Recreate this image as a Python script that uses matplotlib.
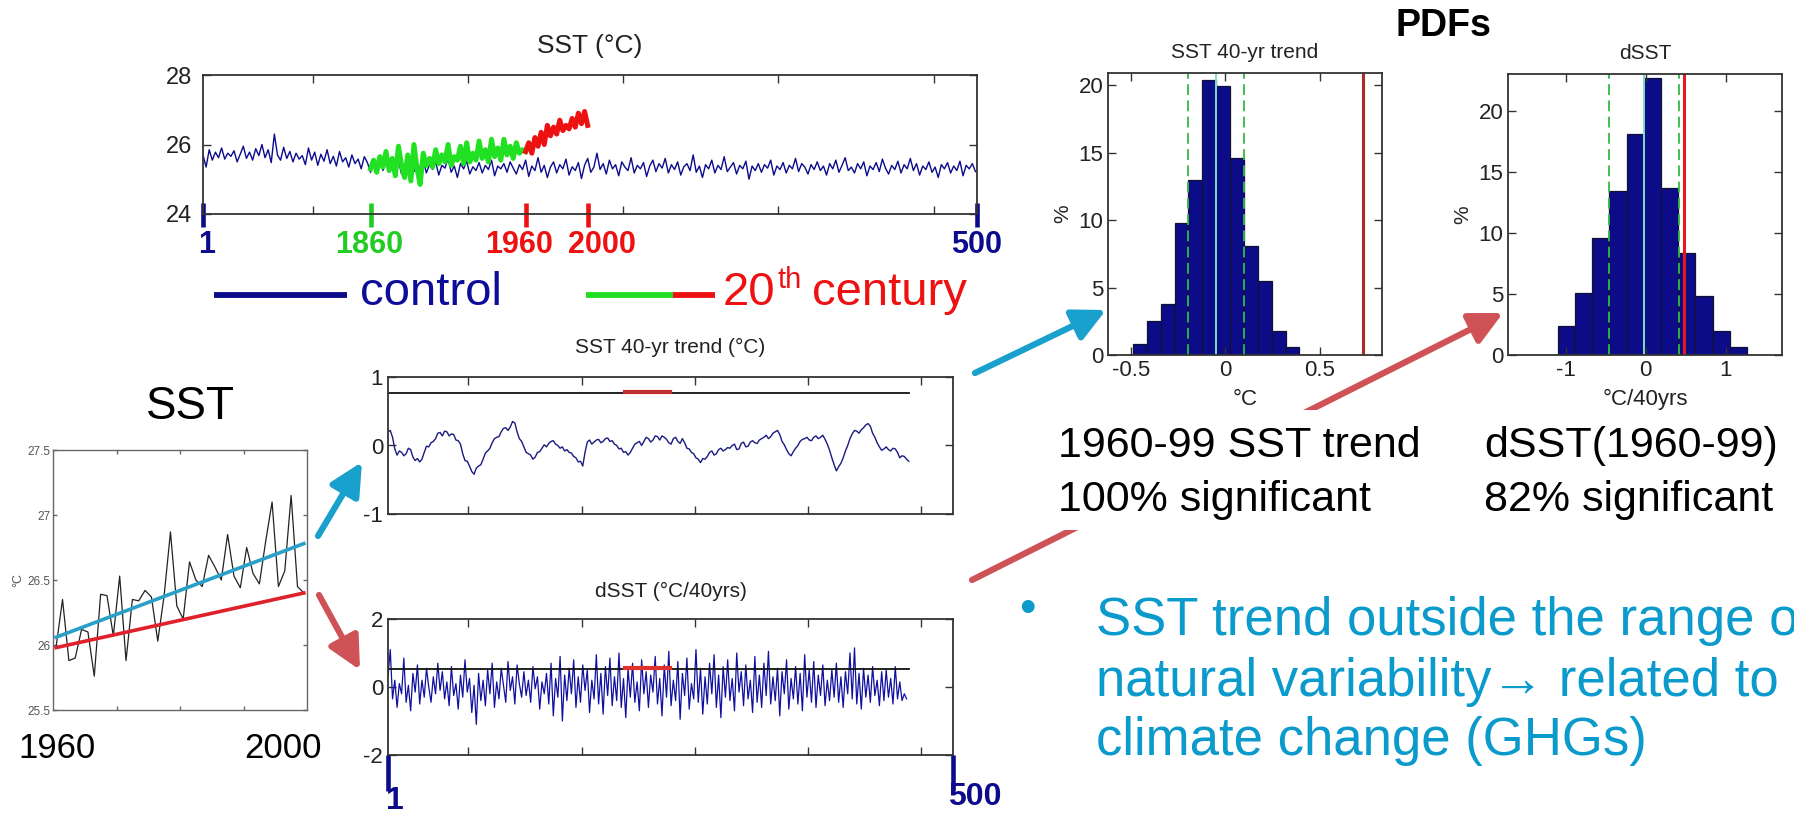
import numpy as np
import matplotlib
matplotlib.use("Agg")
import matplotlib.pyplot as plt
from matplotlib.patches import Rectangle

plt.rcParams['font.family'] = ['Liberation Sans', 'DejaVu Sans']
plt.rcParams['axes.unicode_minus'] = False

# ---------------- data ----------------
# 500-yr control run SST (every 2nd year)
sst_control = [
    25.70, 25.35, 25.85, 25.55, 25.78, 25.62, 25.90, 25.58, 25.75, 25.66,
    25.82, 25.50, 25.72, 25.95, 25.60, 25.78, 25.55, 25.88, 25.68, 26.00,
    25.62, 25.85, 25.48, 26.30, 25.70, 25.55, 25.92, 25.60, 25.80, 25.50,
    25.75, 25.58, 25.68, 25.42, 25.90, 25.55, 25.78, 25.40, 25.72, 25.52,
    25.85, 25.45, 25.66, 25.38, 25.80, 25.50, 25.62, 25.35, 25.70, 25.45,
    25.58, 25.30, 25.65, 25.48, 25.20, 25.55, 25.38, 25.60, 25.25, 25.50,
    25.40, 25.62, 25.28, 25.52, 25.15, 25.45, 25.35, 25.58, 25.22, 25.48,
    25.30, 25.55, 25.18, 25.42, 25.28, 25.50, 25.12, 25.40, 25.32, 25.60,
    25.20, 25.38, 25.05, 25.45, 25.30, 25.52, 25.15, 25.36, 25.25, 25.48,
    25.18, 25.40, 25.28, 25.55, 25.10, 25.38, 25.30, 25.45, 25.20, 25.50,
    25.32, 25.15, 25.42, 25.28, 25.55, 25.08, 25.38, 25.25, 25.62, 25.20,
    25.40, 25.05, 25.35, 25.50, 25.18, 25.42, 25.30, 25.58, 25.12, 25.36,
    25.25, 25.48, 25.02, 25.40, 25.60, 25.20, 25.35, 25.75, 25.28, 25.45,
    25.15, 25.55, 25.30, 25.42, 25.10, 25.50, 25.35, 25.25, 25.62, 25.18,
    25.40, 25.30, 25.48, 25.08, 25.38, 25.55, 25.22, 25.45, 25.32, 25.60,
    25.18, 25.42, 25.28, 25.50, 25.12, 25.36, 25.45, 25.25, 25.70, 25.20,
    25.38, 25.05, 25.42, 25.30, 25.55, 25.18, 25.40, 25.28, 25.65, 25.22,
    25.35, 25.48, 25.15, 25.40, 25.30, 25.52, 25.00, 25.38, 25.25, 25.45,
    25.20, 25.42, 25.32, 25.55, 25.12, 25.38, 25.28, 25.48, 25.18, 25.40,
    25.30, 25.60, 25.22, 25.45, 25.35, 25.15, 25.42, 25.28, 25.50, 25.25,
    25.38, 25.12, 25.45, 25.30, 25.55, 25.20, 25.40, 25.62, 25.25, 25.35,
    25.18, 25.45, 25.30, 25.50, 25.10, 25.38, 25.28, 25.48, 25.22, 25.58,
    25.32, 25.15, 25.40, 25.28, 25.52, 25.18, 25.42, 25.30, 25.60, 25.25,
    25.45, 25.12, 25.38, 25.28, 25.50, 25.20, 25.35, 25.05, 25.42, 25.30,
    25.48, 25.18, 25.38, 25.25, 25.52, 25.10, 25.40, 25.30, 25.45, 25.22,
]
control_step = 2

# 20th-century run: 1860-1959 (green) and 1960-2000 (red), every 2nd year
sst_20c_early = [
    25.30, 25.55, 25.20, 25.65, 25.35, 25.80, 25.25, 25.60, 25.10, 25.95,
    25.40, 25.05, 25.70, 24.95, 26.00, 25.30, 24.85, 25.75, 25.40, 25.60,
    25.35, 25.85, 25.45, 25.70, 25.50, 26.00, 25.40, 25.65, 25.55, 25.95,
    25.45, 26.05, 25.50, 25.75, 25.55, 26.10, 25.60, 25.85, 25.50, 26.15,
    25.65, 25.90, 25.55, 26.15, 25.70, 25.95, 25.60, 26.05, 25.75, 25.85,
    25.80,
]
sst_20c_late = [
    25.80, 26.05, 25.75, 26.20, 25.95, 26.35, 26.00, 26.55, 26.25, 26.50,
    26.30, 26.70, 26.40, 26.55, 26.45, 26.75, 26.50, 26.90, 26.60, 26.95,
    26.55,
]
start_1860 = 109
start_1960 = 209
start_2000 = 249
run_length = 500

# 40-yr running trend of control SST (every 2nd window)
trend_40yr = [
    0.20, 0.22, 0.12, -0.05, -0.14, -0.08, -0.10, -0.15, -0.12, -0.04,
    -0.06, -0.17, -0.22, -0.19, -0.24, -0.20, -0.10, -0.01, -0.02, 0.04,
    0.06, 0.10, 0.18, 0.19, 0.14, 0.21, 0.20, 0.14, 0.17, 0.16,
    0.08, 0.07, 0.02, -0.12, -0.22, -0.23, -0.30, -0.38, -0.42, -0.33,
    -0.30, -0.28, -0.20, -0.11, -0.08, -0.04, 0.04, 0.10, 0.12, 0.13,
    0.20, 0.25, 0.26, 0.22, 0.27, 0.35, 0.33, 0.20, 0.10, 0.06,
    -0.02, -0.10, -0.12, -0.14, -0.20, -0.17, -0.10, -0.09, -0.04, 0.01,
    -0.02, 0.03, 0.06, 0.07, 0.02, 0.00, -0.04, -0.02, -0.08, -0.06,
    -0.10, -0.11, -0.16, -0.18, -0.24, -0.23, -0.30, -0.10, 0.05, 0.08,
    0.02, 0.05, 0.08, 0.09, 0.04, 0.06, 0.10, 0.11, 0.06, 0.07,
    0.02, 0.00, -0.05, -0.04, -0.10, -0.09, -0.14, -0.10, -0.04, 0.02,
    0.04, 0.06, 0.00, 0.06, 0.12, 0.10, 0.05, 0.08, 0.14, 0.13,
    0.08, 0.14, 0.12, 0.09, 0.04, 0.02, 0.10, 0.12, 0.06, 0.03,
    0.10, 0.04, -0.04, -0.05, -0.10, -0.12, -0.18, -0.20, -0.25, -0.19,
    -0.20, -0.16, -0.10, -0.08, -0.14, -0.12, -0.06, -0.04, -0.08, -0.06,
    -0.03, -0.04, 0.00, 0.02, -0.06, -0.05, 0.03, 0.05, -0.02, -0.01,
    0.05, 0.07, 0.04, 0.03, 0.08, 0.10, 0.12, 0.15, 0.10, 0.13,
    0.18, 0.20, 0.22, 0.16, 0.06, 0.01, -0.06, -0.12, -0.15, -0.09,
    -0.04, 0.00, 0.06, 0.09, 0.10, 0.12, 0.08, 0.07, 0.12, 0.14,
    0.10, 0.12, 0.15, 0.09, 0.02, -0.07, -0.18, -0.28, -0.37, -0.31,
    -0.26, -0.18, -0.08, 0.00, 0.10, 0.17, 0.22, 0.21, 0.18, 0.23,
    0.26, 0.30, 0.32, 0.28, 0.18, 0.12, 0.04, -0.02, -0.07, -0.05,
    -0.02, -0.06, -0.08, -0.04, -0.05, -0.10, -0.18, -0.15, -0.16, -0.20,
    -0.23,
]
trend_step = 2

# 40-yr difference dSST of control SST (every 2nd window)
dsst_40yr = [
    0.30, 1.10, -0.35, 0.20, -0.60, 0.10, -0.20, 0.85, -0.45, 0.05,
    -0.70, 0.40, -0.15, 0.65, -0.50, 0.20, -0.30, 0.55, 0.00, -0.45,
    0.30, -0.20, 0.70, -0.10, 0.45, -0.35, 0.15, -0.55, 0.60, -0.25,
    0.10, -0.65, 0.35, -0.30, 0.80, -0.15, 0.25, -0.75, 0.05, -1.10,
    0.40, -0.40, 0.20, -0.55, 0.50, -0.20, 0.70, -0.60, 0.15, -0.35,
    0.55, 0.05, -0.45, 0.75, -0.10, 0.30, -0.50, 0.65, 0.10, -0.30,
    0.45, -0.25, 0.20, -0.45, 0.60, -0.05, 0.30, -0.65, 0.15, -0.20,
    0.40, -0.50, 0.70, -0.85, 0.25, -0.30, 0.90, -1.00, 0.35, -0.40,
    0.55, -0.20, 0.80, -0.60, 0.30, -0.45, 0.65, -0.10, 0.50, -0.75,
    0.20, -0.35, 0.95, -0.50, 0.40, -0.80, 0.60, -0.25, 0.85, -0.55,
    0.30, -0.40, 1.00, -0.60, 0.25, -0.90, 0.55, -0.30, 0.70, -0.45,
    0.15, -0.70, 0.80, -0.20, 0.45, -0.60, 0.35, -0.15, 0.90, -0.50,
    0.25, -0.85, 0.65, -0.30, 1.05, -0.55, 0.20, -0.40, 0.75, -0.95,
    0.40, -0.25, 0.85, -0.65, 0.10, -0.35, 1.10, -0.45, 0.55, -0.80,
    0.30, -0.50, 0.70, -0.20, 0.95, -0.60, 0.35, -0.90, 0.60, -0.30,
    0.80, -0.40, 0.25, -0.70, 1.00, -0.15, 0.45, -0.55, 0.65, -0.35,
    0.20, -0.75, 0.90, -0.45, 0.35, -0.60, 0.70, -0.25, 1.05, -0.50,
    0.30, -0.40, 0.55, -0.85, 0.45, -0.20, 0.80, -0.65, 0.25, -0.35,
    0.60, -0.50, 0.40, -0.70, 0.95, -0.30, 0.50, -0.45, 0.75, -0.60,
    0.35, -0.25, 0.65, -0.55, 0.20, -0.40, 0.50, -0.30, 0.70, -0.45,
    0.30, -0.60, 0.45, -0.20, 1.00, -0.35, 1.15, -0.50, 0.40, -0.65,
    0.55, -0.30, 0.35, -0.45, 0.60, -0.25, 0.20, -0.55, 0.45, -0.40,
    0.50, -0.30, 0.25, -0.50, 0.60, -0.35, 0.15, -0.40, -0.20, -0.35,
]
dsst_step = 2

n_windows = 461
trend_obs = 0.78          # observed 1960-99 trend
trend_max = 0.77          # largest control trend
dsst_obs = 0.56           # observed dSST(1960-99)
dsst_thr = 0.53
window_obs = (210, 250)

# observed SST 1960-1999 and its linear trends
obs_years = np.arange(1960, 2000) + 0.5
sst_obs = [
    25.99, 26.35, 25.88, 25.90, 26.12, 26.10, 25.76, 26.39, 26.38, 26.07,
    26.53, 25.88, 26.35, 26.34, 26.42, 26.37, 26.03, 26.38, 26.87, 26.30,
    26.20, 26.64, 26.50, 26.45, 26.69, 26.60, 26.50, 26.85, 26.53, 26.44,
    26.75, 26.55, 26.47, 26.80, 27.10, 26.45, 26.57, 27.15, 26.45, 26.40,
]
total_trend_ends = [26.06, 26.78]
forced_trend_ends = [25.98, 26.40]

# PDFs
trend_bin_lo, trend_bin_w = -0.488, 0.0734
trend_pdf = [0.8, 2.5, 3.8, 9.75, 13.0, 20.4, 19.95, 14.6, 8.07, 5.5, 1.8, 0.57]
trend_mean, trend_lo, trend_hi = -0.048, -0.195, 0.102
trend_obs_pdf = 0.727
dsst_bin_lo, dsst_bin_w = -1.10, 0.2148
dsst_pdf = [2.4, 5.05, 9.56, 13.4, 18.1, 22.7, 13.7, 8.33, 4.84, 1.97, 0.68]
dsst_mean, dsst_lo, dsst_hi = -0.017, -0.458, 0.417
dsst_obs_pdf = 0.48

# ---------------- figure ----------------
W, H = 1794, 813
fig = plt.figure(figsize=(W / 100, H / 100), dpi=100)
fig.patch.set_facecolor('white')


def add_ax(l, t, r, b):
    return fig.add_axes([l / W, 1 - b / H, (r - l) / W, (b - t) / H])


NAVY = '#0b0b8c'
FRAME = '#333333'


def matlab_style(ax, size=15, frame=FRAME, lw=1.3, tick_len=6):
    for s in ax.spines.values():
        s.set_color(frame)
        s.set_linewidth(lw)
    ax.tick_params(direction='in', top=True, right=True, length=tick_len,
                   width=1.0, colors=frame, labelcolor='#222222',
                   labelsize=size)


# ---- control / 20th century SST ----
ax1 = add_ax(203, 75, 977, 214)
x_ctrl = 1 + control_step * np.arange(len(sst_control))
ax1.plot(x_ctrl, sst_control, color=NAVY, lw=1.0)
x_early = start_1860 + control_step * np.arange(len(sst_20c_early))
ax1.plot(x_early, sst_20c_early, color='#22e022', lw=3.6)
x_late = start_1960 + control_step * np.arange(len(sst_20c_late))
ax1.plot(x_late, sst_20c_late, color='#ee1111', lw=3.6)
ax1.set_xlim(1, run_length)
ax1.set_ylim(24, 28)
ax1.set_yticks([24, 26, 28])
ax1.set_xticks([72, 172, 272, 372, 472])
ax1.set_xticklabels([])
matlab_style(ax1, size=17)
ax1.tick_params(axis='y', pad=8)
ax1.set_title('SST (°C)', fontsize=19, color='#222222', pad=16)

# period markers under the axis; labels sit at their own x so they don't collide
marks = [(1, '1', NAVY, 207), (start_1860, '1860', '#22cc22', 369),
         (start_1960, '1960', '#ee1111', 519), (start_2000, '2000', '#ee1111', 602),
         (run_length, '500', NAVY, 977)]
for xm, lab, col, xl in marks:
    ax1.plot([xm, xm], [24.32, 23.62], color=col, lw=3.3, clip_on=False,
             solid_capstyle='butt')

# ---- 40-yr trend ----
ax2 = add_ax(388, 377, 953, 514)
x_tr = 1 + trend_step * np.arange(len(trend_40yr))
ax2.plot(x_tr, trend_40yr, color='#1a1a80', lw=1.0)
ax2.plot([1, n_windows], [trend_max, trend_max], color='#111111', lw=1.3)
ax2.plot(window_obs, [trend_obs, trend_obs], color='#c03030', lw=3.0)
ax2.set_xlim(1, run_length)
ax2.set_ylim(-1, 1)
ax2.set_yticks([-1, 0, 1])
ax2.set_xticks([72, 172, 272, 372, 472])
ax2.set_xticklabels([])
matlab_style(ax2, size=16)
ax2.set_title('SST 40-yr trend (°C)', fontsize=15, color='#222222', pad=17)

# ---- dSST ----
ax3 = add_ax(388, 619, 953, 755)
x_ds = 1 + dsst_step * np.arange(len(dsst_40yr))
ax3.plot(x_ds, dsst_40yr, color='#1010a0', lw=0.9)
ax3.plot([1, n_windows], [dsst_thr, dsst_thr], color='#111111', lw=1.3)
ax3.plot(window_obs, [dsst_obs, dsst_obs], color='#e03030', lw=3.0)
ax3.set_xlim(1, run_length)
ax3.set_ylim(-2, 2)
ax3.set_yticks([-2, 0, 2])
ax3.set_xticks([72, 172, 272, 372, 472])
ax3.set_xticklabels([])
matlab_style(ax3, size=16)
ax3.set_title('dSST (°C/40yrs)', fontsize=15, color='#222222', pad=16)
for xm in (1, run_length):
    ax3.plot([xm, xm], [-2.0, -3.05], color=NAVY, lw=3.3, clip_on=False,
             solid_capstyle='butt')

# ---- observed SST 1960-99 ----
ax4 = add_ax(53, 450, 307, 710)
ax4.plot(obs_years, sst_obs, color='#222222', lw=0.9)
ax4.plot([obs_years[0], obs_years[-1]], total_trend_ends, color='#2a9fc8', lw=2.6)
ax4.plot([obs_years[0], obs_years[-1]], forced_trend_ends, color='#e0202a', lw=2.6)
ax4.set_xlim(1960, 2000)
ax4.set_ylim(25.5, 27.5)
ax4.set_yticks([25.5, 26, 26.5, 27, 27.5])
ax4.set_yticklabels(['25.5', '26', '26.5', '27', '27.5'])
ax4.set_xticks([1970, 1980, 1990])
ax4.set_xticklabels([])
matlab_style(ax4, size=8.5, frame='#666666', lw=1.0, tick_len=3)
ax4.tick_params(labelcolor='#555555', pad=2)
ax4.set_ylabel('°C', fontsize=9, color='#555555', labelpad=2)


# ---- PDFs ----
def pdf_panel(ax, lo, w, pdf, mean, lo_b, hi_b, obs, red, xlim, ylim,
              xticks, xticklabels, title, xlabel):
    edges = lo + w * np.arange(len(pdf))
    ax.bar(edges, pdf, width=w, align='edge', color='#0c0c88',
           edgecolor='#111133', linewidth=0.9)
    ax.axvline(mean, color='#7fdcc8', lw=1.4)
    for v in (lo_b, hi_b):
        ax.axvline(v, color='#33bb44', lw=1.3, ls=(0, (6, 3)))
    ax.axvline(obs, color=red, lw=2.2)
    ax.set_xlim(*xlim)
    ax.set_ylim(*ylim)
    ax.set_xticks(xticks)
    ax.set_xticklabels(xticklabels)
    ax.set_yticks([0, 5, 10, 15, 20])
    matlab_style(ax, size=16)
    ax.set_title(title, fontsize=15, color='#222222', pad=11)
    ax.set_xlabel(xlabel, fontsize=16, color='#222222', labelpad=6)
    ax.set_ylabel('%', fontsize=15, color='#222222', labelpad=4)


ax5 = add_ax(1108, 73, 1382, 355)
pdf_panel(ax5, trend_bin_lo, trend_bin_w, trend_pdf, trend_mean, trend_lo,
          trend_hi, trend_obs_pdf, '#b0282a', (-0.62, 0.83), (0, 20.9),
          [-0.5, 0, 0.5], ['-0.5', '0', '0.5'], 'SST 40-yr trend', '°C')

ax6 = add_ax(1508, 74, 1782, 355)
pdf_panel(ax6, dsst_bin_lo, dsst_bin_w, dsst_pdf, dsst_mean, dsst_lo,
          dsst_hi, dsst_obs_pdf, '#e8191a', (-1.72, 1.70), (0, 23.0),
          [-1, 0, 1], ['-1', '0', '1'], 'dSST', '°C/40yrs')

# ---------------- slide overlay ----------------
ov = fig.add_axes([0, 0, 1, 1], zorder=10)
ov.set_xlim(0, W)
ov.set_ylim(H, 0)
ov.axis('off')
ov.patch.set_alpha(0)

for xm, lab, col, xl in marks:
    ov.text(xl, 245, lab, ha='center', va='center', fontsize=22,
            fontweight='bold', color=col)

BLUE_ARROW = '#1aa0cc'
RED_ARROW = '#cf5257'


def arrow(tail, head, color, z=1):
    ov.annotate('', xy=head, xytext=tail, zorder=z,
                arrowprops=dict(arrowstyle='-|>,head_length=0.9,head_width=0.45',
                                lw=4.5, color=color, shrinkA=0, shrinkB=0,
                                mutation_scale=22))


arrow((318, 536), (362, 462), BLUE_ARROW)
arrow((319, 595), (360, 670), RED_ARROW)
arrow((975, 373), (1106, 310), BLUE_ARROW)
arrow((972, 580), (1503, 313), RED_ARROW)

# white text box hides the long arrow behind the caption
ov.add_patch(Rectangle((1050, 410), 395, 120, facecolor='white',
                       edgecolor='none', zorder=2))

ov.text(1443, 26, 'PDFs', fontsize=27, fontweight='bold', ha='center',
        va='center', zorder=3)
ov.text(1058, 446, '1960-99 SST trend', fontsize=31, va='center', zorder=3)
ov.text(1058, 500, '100% significant', fontsize=31, va='center', zorder=3)
ov.text(1484, 446, 'dSST(1960-99)', fontsize=31, va='center', zorder=3)
ov.text(1484, 500, '82% significant', fontsize=31, va='center', zorder=3)

TEAL = '#0a9acb'
ov.text(1027, 610, '•', fontsize=34, color=TEAL, ha='center', va='center')
ov.text(1096, 621, 'SST trend outside the range of', fontsize=38, color=TEAL,
        va='center')
ov.text(1096, 682, 'natural variability\u2192 related to', fontsize=38,
        color=TEAL, va='center')
ov.text(1096, 741, 'climate change (GHGs)', fontsize=38, color=TEAL,
        va='center')

ov.text(190, 407, 'SST', fontsize=33, ha='center', va='center')
ov.text(57, 748, '1960', fontsize=25, ha='center', va='center')
ov.text(283, 748, '2000', fontsize=25, ha='center', va='center')

# legend
ov.plot([214, 347], [295, 295], color=NAVY, lw=4.2, solid_capstyle='butt')
ov.text(360, 293, 'control', fontsize=34, color='#0d0d99', va='center')
ov.plot([586, 673], [295, 295], color='#22dd22', lw=4.2, solid_capstyle='butt')
ov.plot([673, 715], [295, 295], color='#ee1111', lw=4.2, solid_capstyle='butt')
ov.text(723, 293, '20', fontsize=34, color='#ee1111', va='center')
ov.text(777, 280, 'th', fontsize=21, color='#ee1111', va='center')
ov.text(812, 293, 'century', fontsize=34, color='#ee1111', va='center')

# run length labels under the dSST panel
ov.text(395, 801, '1', fontsize=23, fontweight='bold', color=NAVY,
        ha='center', va='center')
ov.text(975, 797, '500', fontsize=23, fontweight='bold', color=NAVY,
        ha='center', va='center')

fig.savefig('out.png', dpi=100, facecolor='white')
